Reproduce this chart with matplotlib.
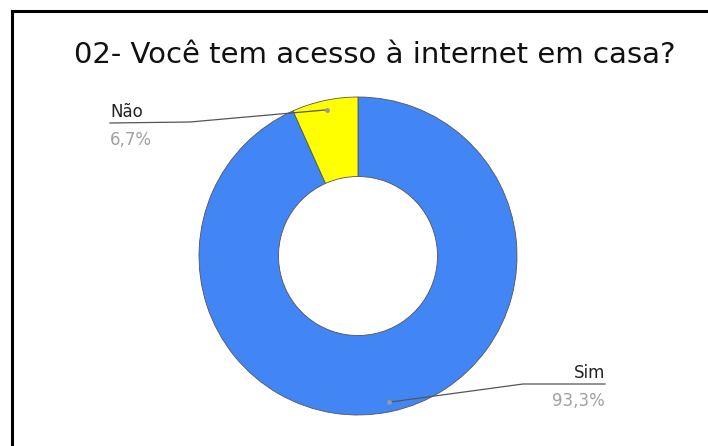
import numpy as np
import matplotlib
matplotlib.use("Agg")
import matplotlib.pyplot as plt

# dados
rotulos = ["Sim", "Não"]
valores = [93.3, 6.7]
textos = ["93,3%", "6,7%"]
cores = ["#4285f4", "#ffff00"]

W, H = 708, 446
fig = plt.figure(figsize=(W/100, H/100), dpi=100)
ax = fig.add_axes([0, 0, 1, 1])

cx, cy, r = 358, H - 256, 159
wedges, _ = ax.pie(valores, colors=cores, startangle=90, counterclock=False,
                   center=(cx, cy), radius=r, frame=True,
                   wedgeprops=dict(width=r*0.5, edgecolor="#555555", linewidth=0.6))
ax.set_xlim(0, W)
ax.set_ylim(0, H)
ax.set_aspect("equal")
ax.axis("off")

# borda (esquerda e topo)
ax.plot([11.5, 11.5], [0, H - 11], color="black", lw=2.2, solid_capstyle="projecting")
ax.plot([11.5, W], [H - 11, H - 11], color="black", lw=2.2)

ax.text(375, H - 63, "02- Você tem acesso à internet em casa?", fontsize=21,
        ha="center", va="baseline", color="#111111")

# rótulos com linhas de chamada
config = {
    "Não": dict(elbow=(190, 122), end=(110, 123), ha="left"),
    "Sim": dict(elbow=(523, 384), end=(605, 384), ha="right"),
}
for w, lab, txt in zip(wedges, rotulos, textos):
    ang = np.deg2rad((w.theta1 + w.theta2) / 2)
    px, py = cx + 0.94*r*np.cos(ang), cy + 0.94*r*np.sin(ang)
    c = config[lab]
    ex, ey = c["elbow"]
    fx, fy = c["end"]
    ax.plot([px, ex, fx], [py, H - ey, H - fy], color="#555555", lw=0.9)
    ax.plot(px, py, "o", color="#999999", ms=2.5)
    ax.text(fx, H - fy + 6, lab, fontsize=12, ha=c["ha"], va="baseline", color="#222222")
    ax.text(fx, H - fy - 22, txt, fontsize=12, ha=c["ha"], va="baseline", color="#a0a0a0")

fig.savefig("out.png", dpi=100)
